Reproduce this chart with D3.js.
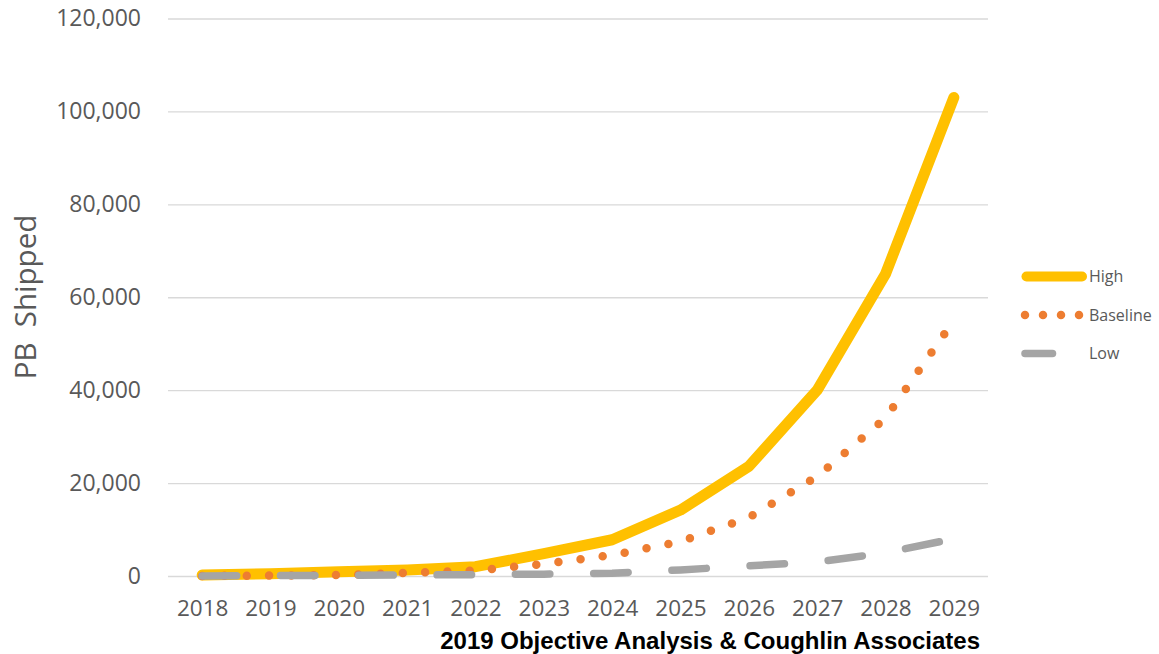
<!DOCTYPE html>
<html>
<head>
<meta charset="utf-8">
<script src="https://cdn.jsdelivr.net/npm/d3@7"></script>
<style>
  body { margin: 0; background: #fff; }
  text { font-family: "Open Sans", "Noto Sans", sans-serif; fill: #595959; }
</style>
</head>
<body>
<div id="chart"></div>
<script>
// data
var years = ["2018", "2019", "2020", "2021", "2022", "2023", "2024", "2025", "2026", "2027", "2028", "2029"];
var high = [200, 500, 900, 1300, 2000, 4800, 7800, 14200, 23600, 40000, 65000, 103000];
var baseline = [0, 100, 200, 700, 1150, 2600, 4500, 7400, 12600, 21400, 34000, 55000];
var low = [0, 100, 150, 200, 300, 400, 600, 1300, 2200, 3000, 5000, 8000];
var yTicks = [0, 20000, 40000, 60000, 80000, 100000, 120000];

var svgWidth = 1159;
var svgHeight = 654;

// plot area
var plot = {left: 168, right: 988, top: 18.5, bottom: 576};

var svg = d3.select("#chart")
	.append("svg")
	.attr("width", svgWidth)
	.attr("height", svgHeight);

var x = d3.scalePoint()
	.domain(years)
	.range([plot.left, plot.right])
	.padding(0.5);

var y = d3.scaleLinear()
	.domain([0, 120000])
	.range([plot.bottom, plot.top]);

// gridlines + y labels
var yAxis = svg.append("g")
	.attr("transform", `translate(${plot.left},0)`)
	.call(d3.axisLeft(y)
		.tickValues(yTicks)
		.tickSize(-(plot.right - plot.left))
		.tickPadding(27)
		.tickFormat(d3.format(",")));
yAxis.select(".domain").remove();
yAxis.selectAll(".tick line").attr("stroke", "#d9d9d9").attr("stroke-width", 1.3);
yAxis.selectAll(".tick text")
	.style("font-size", "23px")
	.style("font-family", "'Open Sans', sans-serif")
	.attr("fill", "#595959");

// x labels
var xAxis = svg.append("g")
	.attr("transform", `translate(0,${plot.bottom})`)
	.call(d3.axisBottom(x).tickSize(0));
xAxis.select(".domain").remove();
xAxis.selectAll(".tick text")
	.attr("y", 32)
	.attr("dy", "0.36em")
	.style("font-size", "22.5px")
	.style("font-family", "'Open Sans', sans-serif")
	.attr("fill", "#595959");

// lines
var line = d3.line()
	.x((d, i) => x(years[i]))
	.y(d => y(d));

var series = [
	{name: "High", values: high, color: "#ffc000", width: 11, dash: null},
	{name: "Baseline", values: baseline, color: "#ed7d31", width: 8.5, dash: "0,22.3"},
	{name: "Low", values: low, color: "#a5a5a5", width: 7.5, dash: "34.5,43.8"}
];

svg.selectAll(".series")
	.data(series)
	.enter()
	.append("path")
	.attr("class", "series")
	.attr("d", d => line(d.values))
	.attr("fill", "none")
	.attr("stroke", d => d.color)
	.attr("stroke-width", d => d.width)
	.attr("stroke-linecap", "round")
	.attr("stroke-linejoin", "round")
	.attr("stroke-dasharray", d => d.dash);

// legend
var legendY = [276.5, 315, 353.5];
var legend = svg.selectAll(".legend")
	.data(series)
	.enter()
	.append("g")
	.attr("class", "legend")
	.attr("transform", (d, i) => `translate(0,${legendY[i]})`);

legend.append("line")
	.attr("x1", d => d.name == "High" ? 1026.5 : 1025)
	.attr("x2", d => d.name == "High" ? 1082 : (d.name == "Low" ? 1052.5 : 1080))
	.attr("stroke", d => d.color)
	.attr("stroke-width", d => d.name == "Baseline" ? 8.5 : (d.name == "High" ? 10 : d.width))
	.attr("stroke-linecap", "round")
	.attr("stroke-dasharray", d => d.name == "Baseline" ? "0,18" : null);

legend.append("text")
	.attr("x", 1089)
	.attr("dy", "0.36em")
	.style("font-size", "16px")
	.text(d => d.name);

// y axis title
svg.append("text")
	.attr("transform", "translate(25,297) rotate(-90)")
	.attr("text-anchor", "middle")
	.attr("dy", "0.36em")
	.style("font-size", "29.5px")
	.style("white-space", "pre")
	.text("PB  Shipped");

// source note
svg.append("text")
	.attr("x", 980)
	.attr("y", 640)
	.attr("dy", "0.36em")
	.attr("text-anchor", "end")
	.style("font-family", "'Liberation Sans', Arial, sans-serif")
	.style("font-weight", "bold")
	.style("font-size", "24px")
	.style("fill", "#000")
	.text("2019 Objective Analysis & Coughlin Associates");
</script>
</body>
</html>
